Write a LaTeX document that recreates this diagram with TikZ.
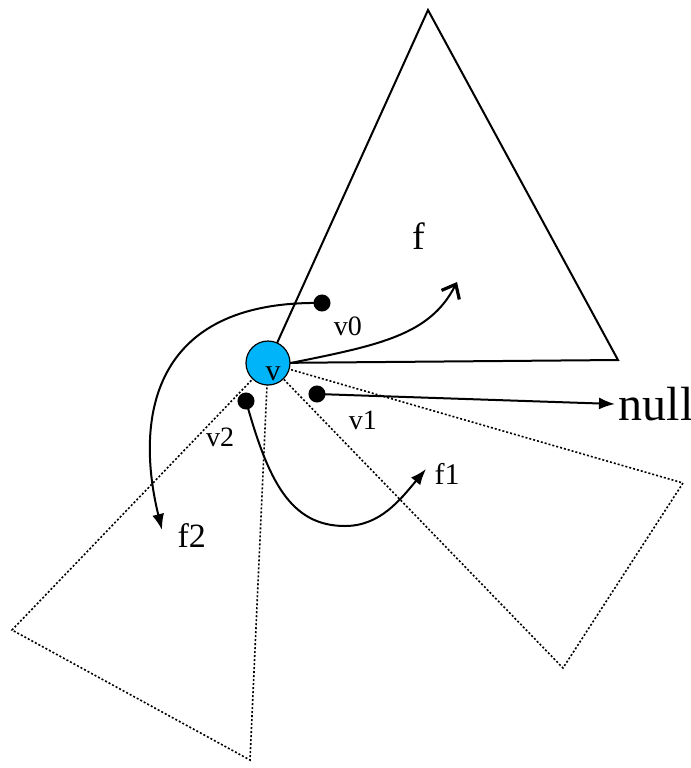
\documentclass[tikz,border=0pt]{standalone}
\usepackage{fontspec}
\setmainfont{Liberation Serif}
\usetikzlibrary{arrows.meta}
\definecolor{vblue}{RGB}{0,180,250}

\begin{document}
\begin{tikzpicture}[x=0.5pt,y=-0.5pt,line width=1pt]
			\useasboundingbox (0,0) rectangle (691,768);
			\coordinate (V) at (268,363);
			\coordinate (T1) at (428,10);
			\coordinate (T2) at (618,360);
			\coordinate (R1) at (683,483);
			\coordinate (R2) at (563,668);
			\coordinate (L1) at (12,630);
			\coordinate (L2) at (250,760);
			\coordinate (P0) at (322,303);
			\coordinate (P1) at (317,394);
			\coordinate (P2) at (246,401);
			\coordinate (Up) at (457,282);
			\coordinate (F2) at (162,530);
			\coordinate (F1) at (426,469);
			\coordinate (N) at (615,404);
			
			\draw (V)--(T1)--(T2)--cycle;
			\draw[dash pattern=on 1pt off 1pt,line width=0.8pt] (V)--(R1)--(R2)--cycle;
			\draw[dash pattern=on 1pt off 1pt,line width=0.8pt] (V)--(L1)--(L2)--cycle;
			
			\node[circle,draw,line width=0.6pt,fill=vblue,minimum size=22pt,inner sep=0pt] (v) at (V) {};
			\node[anchor=base] (vtxt) at (273,380) {\fontsize{15}{17}\selectfont v};
			
			\draw[-{Latex[length=8pt,width=6pt]}] (P0) .. controls (150,300) and (135,420) .. (F2);
			\draw[-{Straight Barb[length=6pt,width=10pt,line width=1.6pt]}] (v.east) .. controls (380,345) and (430,335) .. (Up);
			\draw[-{Latex[length=8pt,width=6pt]}] (P1) -- (N);
			\draw[-{Latex[length=8pt,width=6pt]}] (P2) .. controls (268,480) and (290,526) .. (345,526) .. controls (380,526) and (400,500) .. (F1);
			
			\node[anchor=base] (f) at (419,249) {\fontsize{19}{22}\selectfont f};
			\node[anchor=base west] (f1) at (427,484) {\fontsize{15}{18}\selectfont f1};
			\node[anchor=base west] (f2) at (170,547) {\fontsize{17}{20}\selectfont f2};
			\node[anchor=base west] (null) at (611,420) {\fontsize{24}{27}\selectfont null};
			\node[anchor=base] (v0) at (348,335) {\fontsize{14}{16}\selectfont v0};
			\node[anchor=base] (v1) at (363,429) {\fontsize{14}{16}\selectfont v1};
			\node[anchor=base] (v2) at (220,446) {\fontsize{14}{16}\selectfont v2};
			
			\draw[fill=black] (P0) circle (7.5);
			\draw[fill=black] (P1) circle (7.5);
			\draw[fill=black] (P2) circle (7.5);
		\end{tikzpicture}
\end{document}
